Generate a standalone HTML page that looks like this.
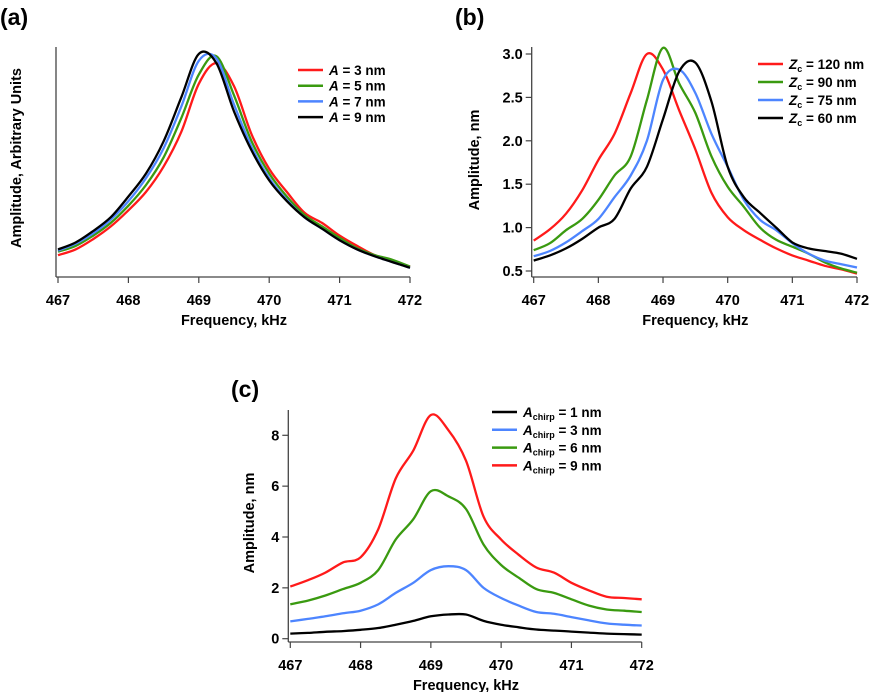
<!DOCTYPE html>
<html><head><meta charset="utf-8"><style>
body{margin:0;background:#fff;}
svg{display:block;font-family:"Liberation Sans",Arial,sans-serif;font-weight:bold;}
</style></head><body>
<svg id="fig" width="871" height="692" viewBox="0 0 871 692" xmlns="http://www.w3.org/2000/svg"></svg>
<script>
const freqs=[467,467.25,467.5,467.75,468,468.25,468.5,468.75,469,469.25,469.5,469.75,470,470.25,470.5,470.75,471,471.25,471.5,471.75,472];
const xTicks=[467,468,469,470,471,472];
// Panel (a) arbitrary units
const aNames=["A = 3 nm","A = 5 nm","A = 7 nm","A = 9 nm"];
const aRed=[0.095,0.12,0.165,0.22,0.29,0.37,0.48,0.63,0.84,0.93,0.83,0.62,0.47,0.37,0.28,0.235,0.18,0.135,0.095,0.07,0.045];
const aGreen=[0.11,0.135,0.18,0.235,0.31,0.40,0.52,0.69,0.88,0.96,0.79,0.59,0.45,0.35,0.27,0.22,0.17,0.125,0.095,0.075,0.045];
const aBlue=[0.115,0.145,0.19,0.25,0.33,0.43,0.56,0.74,0.94,0.95,0.75,0.565,0.43,0.335,0.26,0.21,0.16,0.12,0.09,0.065,0.04];
const aBlack=[0.12,0.15,0.20,0.26,0.35,0.45,0.59,0.78,0.97,0.93,0.72,0.55,0.42,0.33,0.26,0.21,0.16,0.12,0.09,0.065,0.04];
// Panel (b) nm
const bNames=["120 nm","90 nm","75 nm","60 nm"];
const bTicks=[0.5,1.0,1.5,2.0,2.5,3.0];
const bRed=[0.85,0.98,1.16,1.43,1.78,2.08,2.55,3.0,2.82,2.35,1.9,1.4,1.12,0.97,0.86,0.76,0.68,0.62,0.56,0.52,0.47];
const bGreen=[0.74,0.82,0.97,1.1,1.32,1.6,1.82,2.47,3.07,2.66,2.32,1.82,1.47,1.24,1.0,0.86,0.78,0.7,0.6,0.53,0.48];
const bBlue=[0.67,0.73,0.83,0.96,1.1,1.35,1.6,2.0,2.7,2.82,2.55,2.08,1.7,1.32,1.09,0.97,0.82,0.7,0.62,0.58,0.54];
const bBlack=[0.62,0.68,0.76,0.87,1.0,1.1,1.45,1.7,2.25,2.8,2.9,2.45,1.7,1.35,1.17,1.0,0.83,0.76,0.73,0.7,0.64];
// Panel (c) nm
const cNames=["1 nm","3 nm","6 nm","9 nm"];
const cTicks=[0,2,4,6,8];
const cBlack=[0.2,0.23,0.27,0.3,0.35,0.42,0.55,0.7,0.88,0.95,0.95,0.7,0.55,0.45,0.36,0.32,0.28,0.24,0.2,0.18,0.16];
const cBlue=[0.68,0.78,0.88,1.0,1.1,1.35,1.8,2.2,2.7,2.85,2.7,2.0,1.6,1.3,1.05,0.98,0.85,0.72,0.6,0.55,0.52];
const cGreen=[1.35,1.5,1.7,1.95,2.2,2.7,3.9,4.7,5.8,5.6,5.1,3.7,2.9,2.4,1.95,1.8,1.55,1.3,1.15,1.1,1.05];
const cRed=[2.05,2.3,2.6,3.0,3.2,4.3,6.3,7.4,8.8,8.2,7.0,4.8,3.9,3.3,2.8,2.6,2.2,1.9,1.65,1.6,1.55];

const RED="#ff1a1a",GREEN="#3a9a10",BLUE="#4d85ff",BLACK="#000";
const NS="http://www.w3.org/2000/svg";
const svg=document.getElementById('fig');
function mk(tag,attrs,parent){const e=document.createElementNS(NS,tag);for(const k in attrs)e.setAttribute(k,attrs[k]);(parent||svg).appendChild(e);return e;}
function smooth(pts){
  let d='M'+pts[0][0].toFixed(1)+','+pts[0][1].toFixed(1);
  for(let i=0;i<pts.length-1;i++){
    const p0=pts[Math.max(0,i-1)],p1=pts[i],p2=pts[i+1],p3=pts[Math.min(pts.length-1,i+2)];
    const c1=[p1[0]+(p2[0]-p0[0])/6,p1[1]+(p2[1]-p0[1])/6];
    const c2=[p2[0]-(p3[0]-p1[0])/6,p2[1]-(p3[1]-p1[1])/6];
    d+=' C'+c1[0].toFixed(1)+','+c1[1].toFixed(1)+' '+c2[0].toFixed(1)+','+c2[1].toFixed(1)+' '+p2[0].toFixed(1)+','+p2[1].toFixed(1);
  }
  return d;
}

function panel(cfg){
  const g=mk('g',{});
  
  
  const X=v=>cfg.x0+(v-467)/5*(cfg.x1-cfg.x0);
  const Y=v=>cfg.yb+(v-cfg.vb)/(cfg.vt-cfg.vb)*(cfg.yt-cfg.yb);
  const ya=mk('line',{x1:cfg.ax,y1:cfg.axTop,x2:cfg.ax,y2:cfg.axBot,stroke:'#444','stroke-width':1.3},g);
  
  const xa=mk('line',{x1:cfg.ax,y1:cfg.axBot,x2:cfg.x1,y2:cfg.axBot,stroke:'#444','stroke-width':1.3},g);
  
  xTicks.forEach(t=>{
    mk('line',{x1:X(t),y1:cfg.axBot,x2:X(t),y2:cfg.axBot+6,stroke:'#444','stroke-width':1.2},g);
    const tx=mk('text',{x:X(t),y:cfg.axBot+28,'text-anchor':'middle','font-size':14.5},g);
    tx.textContent=t;
    
  });
  (cfg.yTicks||[]).forEach(t=>{
    mk('line',{x1:cfg.ax-6,y1:Y(t),x2:cfg.ax,y2:Y(t),stroke:'#444','stroke-width':1.2},g);
    const tx=mk('text',{x:cfg.ax-9,y:Y(t)+5,'text-anchor':'end','font-size':14.5},g);
    tx.textContent=cfg.fmt(t);
    
  });
  const xl=mk('text',{x:(cfg.x0+cfg.x1)/2,y:cfg.axBot+48,'text-anchor':'middle','font-size':14.5},g);
  xl.textContent='Frequency, kHz';
  
  const yl=mk('text',{x:0,y:0,'text-anchor':'middle','font-size':14.5,transform:`translate(${cfg.ylx},${cfg.yly}) rotate(-90)`},g);
  yl.textContent=cfg.ytitle;
  
  const pl=mk('text',{x:cfg.plx,y:cfg.ply,'font-size':23},g);
  pl.textContent=cfg.label;
  
  cfg.series.forEach(s=>{
    const pts=freqs.map((f,i)=>[X(f),Y(s.v[i])]);
    const p=mk('path',{d:smooth(pts),fill:'none',stroke:s.c,'stroke-width':2.3,'stroke-linejoin':'round'},g);
    
  });
  cfg.legend.forEach((l,i)=>{
    const y=cfg.lgy+i*cfg.lgdy;
    const lg=mk('g',{},g);
    
    mk('line',{x1:cfg.lgx,y1:y,x2:cfg.lgx+25,y2:y,stroke:l.c,'stroke-width':2.5},lg);
    const t=mk('text',{x:cfg.lgx+31,y:y+5,'font-size':13.5},lg);
    t.innerHTML=l.html;
  });
}

panel({id:'panel-a',label:'(a)',plx:0,ply:25,x0:58,x1:410,ax:56,axTop:47,axBot:277,yb:277,yt:47,vb:0,vt:1,
  ytitle:'Amplitude, Arbitrary Units',ylx:21,yly:158,
  series:[{v:aRed,c:RED},{v:aGreen,c:GREEN},{v:aBlue,c:BLUE},{v:aBlack,c:BLACK}],
  lgx:298,lgy:70,lgdy:15.7,
  legend:[RED,GREEN,BLUE,BLACK].map((c,i)=>({c:c,html:'<tspan font-style="italic">A</tspan> = '+aNames[i].slice(4)}))});

panel({id:'panel-b',label:'(b)',plx:455,ply:25,x0:533.7,x1:857,ax:531.7,axTop:47,axBot:277,yb:271,yt:54,vb:0.5,vt:3.0,
  yTicks:bTicks,fmt:t=>t.toFixed(1),
  ytitle:'Amplitude, nm',ylx:479,yly:160,
  series:[{v:bRed,c:RED},{v:bGreen,c:GREEN},{v:bBlue,c:BLUE},{v:bBlack,c:BLACK}],
  lgx:758,lgy:64,lgdy:18,
  legend:[RED,GREEN,BLUE,BLACK].map((c,i)=>({c:c,html:'<tspan font-style="italic">Z</tspan><tspan font-size="9" dy="3">c</tspan><tspan dy="-3"> = '+bNames[i]+'</tspan>'}))});

panel({id:'panel-c',label:'(c)',plx:231,ply:397,x0:290.3,x1:641.7,ax:288.3,axTop:410,axBot:642,yb:638.7,yt:435.3,vb:0,vt:8,
  yTicks:cTicks,fmt:t=>String(t),
  ytitle:'Amplitude, nm',ylx:254,yly:523,
  series:[{v:cBlack,c:BLACK},{v:cBlue,c:BLUE},{v:cGreen,c:GREEN},{v:cRed,c:RED}],
  lgx:492,lgy:412,lgdy:17.8,
  legend:[BLACK,BLUE,GREEN,RED].map((c,i)=>({c:c,html:'<tspan font-style="italic">A</tspan><tspan font-size="9" dy="3">chirp</tspan><tspan dy="-3"> = '+cNames[i]+'</tspan>'}))});
</script>
</body></html>
